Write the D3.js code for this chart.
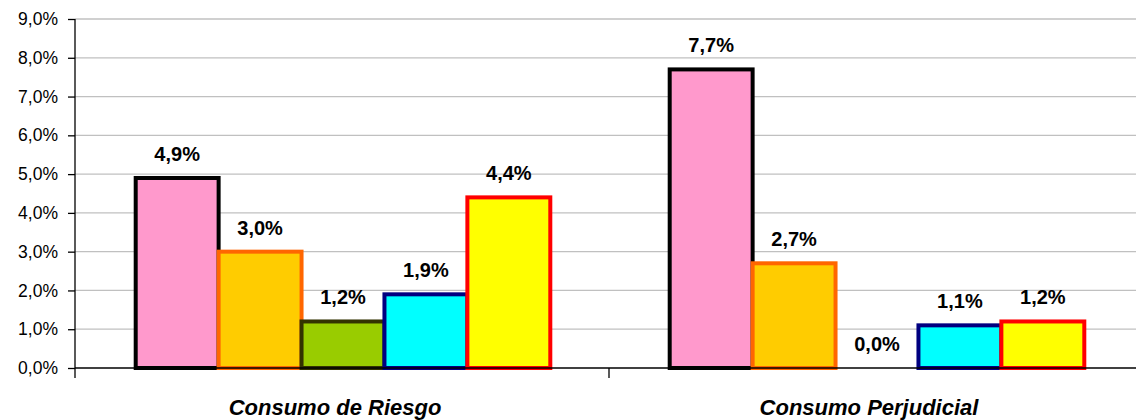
<!DOCTYPE html>
<html><head><meta charset="utf-8">
<script src="https://cdn.jsdelivr.net/npm/d3@7"></script>
<style>body{margin:0;background:#fff}svg{display:block}</style>
</head><body>
<script>
const categories = ["Consumo de Riesgo", "Consumo Perjudicial"];
const seriesNames = ["Serie 1", "Serie 2", "Serie 3", "Serie 4", "Serie 5"];
const seriesValues = [
  [0.049, 0.077],
  [0.030, 0.027],
  [0.012, 0.000],
  [0.019, 0.011],
  [0.044, 0.012]
];
const yTicks = [0, 0.01, 0.02, 0.03, 0.04, 0.05, 0.06, 0.07, 0.08, 0.09];
const fills = ["#FF99CC", "#FFCC00", "#99CC00", "#00FFFF", "#FFFF00"];
const strokes = ["#000000", "#FF6600", "#333300", "#000080", "#FF0000"];

const W = 1136, H = 420;
const m = {left: 75, top: 19, bottom: 368, right: 1143};
const svg = d3.select("body").append("svg").attr("width", W).attr("height", H);
const font = "'Liberation Sans', Arial, sans-serif";
const fmt = v => (v * 100).toFixed(1).replace(".", ",") + "%";

const y = d3.scaleLinear().domain([0, 0.09]).range([m.bottom, m.top]);
const x0 = d3.scaleBand().domain(categories).range([m.left, m.right]).paddingInner(0).paddingOuter(0);
const x1 = d3.scaleBand().domain(seriesNames).range([0, x0.bandwidth()]).paddingOuter(0.72).paddingInner(0);

// gridlines
svg.append("g").selectAll("line").data(yTicks.slice(1)).join("line")
  .attr("x1", m.left).attr("x2", W).attr("y1", d => y(d)).attr("y2", d => y(d))
  .attr("stroke", "#c0c0c0").attr("stroke-width", 1.3);

// y axis
const yAxis = d3.axisLeft(y).tickValues(yTicks).tickFormat(fmt).tickSize(7).tickPadding(10);
const gy = svg.append("g").attr("transform", `translate(${m.left},0)`).call(yAxis);
gy.select(".domain").remove();
gy.selectAll(".tick line").attr("stroke", "#000").attr("stroke-width", 1.3);
gy.selectAll("text").attr("font-family", font).attr("font-size", 17.5).attr("fill", "#000");
svg.append("line").attr("x1", m.left).attr("x2", m.left).attr("y1", m.top).attr("y2", m.bottom + 10)
  .attr("stroke", "#000").attr("stroke-width", 1.3);

// bars
const rows = [];
seriesNames.forEach((s, i) => categories.forEach((c, j) => rows.push({s, i, c, v: seriesValues[i][j]})));
svg.append("g").selectAll("rect").data(rows.filter(d => d.v > 0)).join("rect")
  .attr("x", d => x0(d.c) + x1(d.s) + 1)
  .attr("y", d => y(d.v))
  .attr("width", x1.bandwidth())
  .attr("height", d => m.bottom - y(d.v))
  .attr("fill", d => fills[d.i]).attr("stroke", d => strokes[d.i]).attr("stroke-width", 4);

// x axis
svg.append("line").attr("x1", m.left).attr("x2", W).attr("y1", m.bottom).attr("y2", m.bottom)
  .attr("stroke", "#000").attr("stroke-width", 1.3);
svg.append("g").selectAll("line").data(categories.slice(1)).join("line")
  .attr("x1", d => x0(d)).attr("x2", d => x0(d)).attr("y1", m.bottom).attr("y2", m.bottom + 10)
  .attr("stroke", "#000").attr("stroke-width", 1.3);

// labels
svg.append("g").selectAll("text").data(rows).join("text")
  .attr("x", d => x0(d.c) + x1(d.s) + x1.bandwidth() / 2 + 1)
  .attr("y", d => y(d.v) - 17)
  .attr("text-anchor", "middle").attr("font-family", font).attr("font-weight", "bold")
  .attr("font-size", 20).attr("fill", "#000").text(d => fmt(d.v));

svg.append("g").selectAll("text").data(categories).join("text")
  .attr("x", d => x0(d) + x0.bandwidth() / 2 - 7).attr("y", 415)
  .attr("text-anchor", "middle").attr("font-family", font).attr("font-weight", "bold")
  .attr("font-style", "italic").attr("font-size", 22).attr("fill", "#000").text(d => d);
</script>
</body></html>
